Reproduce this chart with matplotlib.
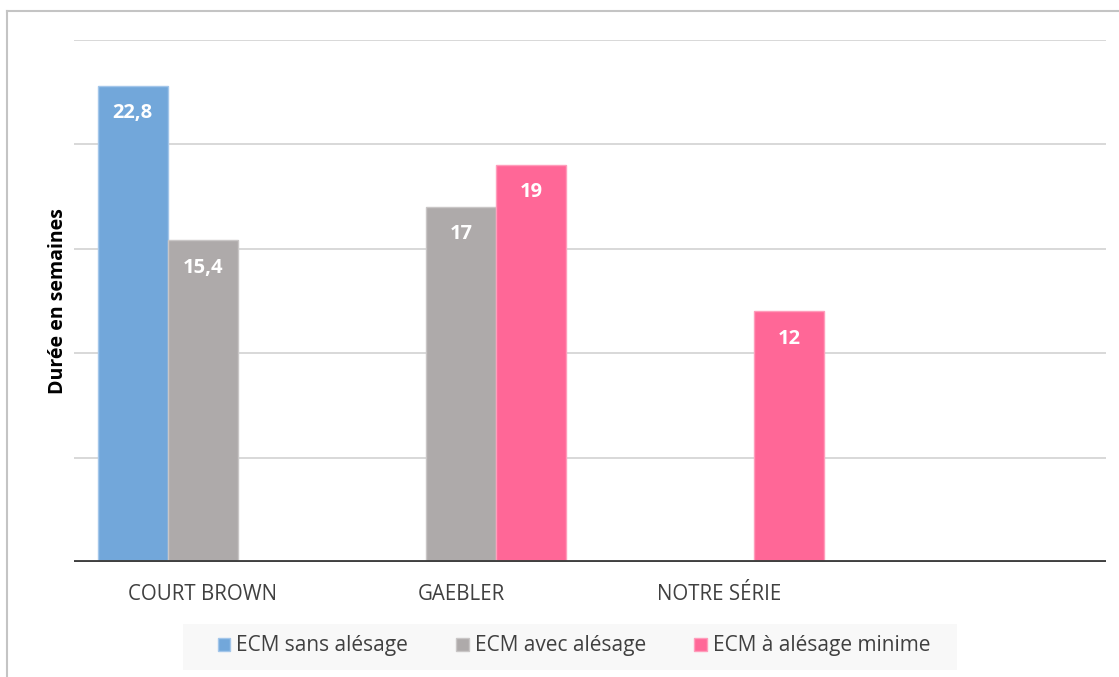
import matplotlib
matplotlib.use("Agg")
import matplotlib.pyplot as plt
from matplotlib.patches import Rectangle
from matplotlib.lines import Line2D
import numpy as np

plt.rcParams['font.family'] = ['Open Sans', 'DejaVu Sans']

categories = ["COURT BROWN", "GAEBLER", "NOTRE SÉRIE", ""]
series_names = ["ECM sans alésage", "ECM avec alésage", "ECM à alésage minime"]
sans_alesage = [22.8, None, None, None]
avec_alesage = [15.4, 17, None, None]
alesage_minime = [None, 19, 12, None]
y_label = "Durée en semaines"

colors = ["#72a7da", "#aeaaaa", "#ff6797"]
edges = ["#a3c6ea", "#c9c6c6", "#ff9dbb"]

W, H = 1119, 677
fig = plt.figure(figsize=(W / 100, H / 100), dpi=100)

# outer chart frame (top and left edges)
fig.add_artist(Line2D([7 / W, 1], [1 - 11 / H, 1 - 11 / H], color="#c4c4c4", lw=1.5))
fig.add_artist(Line2D([7 / W, 7 / W], [0, 1 - 11 / H], color="#c4c4c4", lw=1.5))

ax = fig.add_axes([74 / W, (H - 562) / H, 1032 / W, 522 / H])
x = np.arange(len(categories))
width = 0.272
offsets = [-width, 0, width]

for s, (vals, c, e, name) in enumerate(zip([sans_alesage, avec_alesage, alesage_minime],
                                          colors, edges, series_names)):
    for i, v in enumerate(vals):
        if v is None:
            continue
        ax.bar(x[i] + offsets[s], v, width=width, color=c, edgecolor=e, linewidth=1, zorder=3)
        txt = f"{v:g}".replace(".", ",")
        ax.text(x[i] + offsets[s], v - 1.3, txt, ha="center", va="center",
                color="white", fontsize=14.5, fontweight="bold", zorder=4)

ax.set_xlim(-0.5, 3.5)
ax.set_ylim(0, 25)
for yv in [5, 10, 15, 20, 25]:
    ax.axhline(yv, color="#d6d6d6", lw=1.3, zorder=1)
ax.axhline(0, color="#404040", lw=2.8, zorder=5)

for sp in ax.spines.values():
    sp.set_visible(False)
ax.set_yticks([])
ax.set_xticks(x)
ax.set_xticklabels(categories, fontsize=14.8, color="#404040")
ax.tick_params(axis="x", length=0, pad=16)

fig.text(58 / W, 1 - 301 / H, y_label, rotation=90, ha="center", va="center",
         fontsize=14, fontweight="bold", color="#000000")

# legend panel
fig.add_artist(Rectangle((183 / W, 1 - 670 / H), (957 - 183) / W, 46 / H,
                         transform=fig.transFigure, facecolor="#f8f8f8", edgecolor="none"))
handles = [Rectangle((0, 0), 1, 1, facecolor=c, edgecolor=e, lw=1) for c, e in zip(colors, edges)]
fig.legend(handles, series_names, loc="center", bbox_to_anchor=(574 / W, 1 - 646 / H),
           ncol=3, frameon=False, fontsize=15, handlelength=0.6, handleheight=0.6,
           handletextpad=0.3, columnspacing=2.3, labelcolor="#404040")

fig.savefig("out.png", dpi=100)
